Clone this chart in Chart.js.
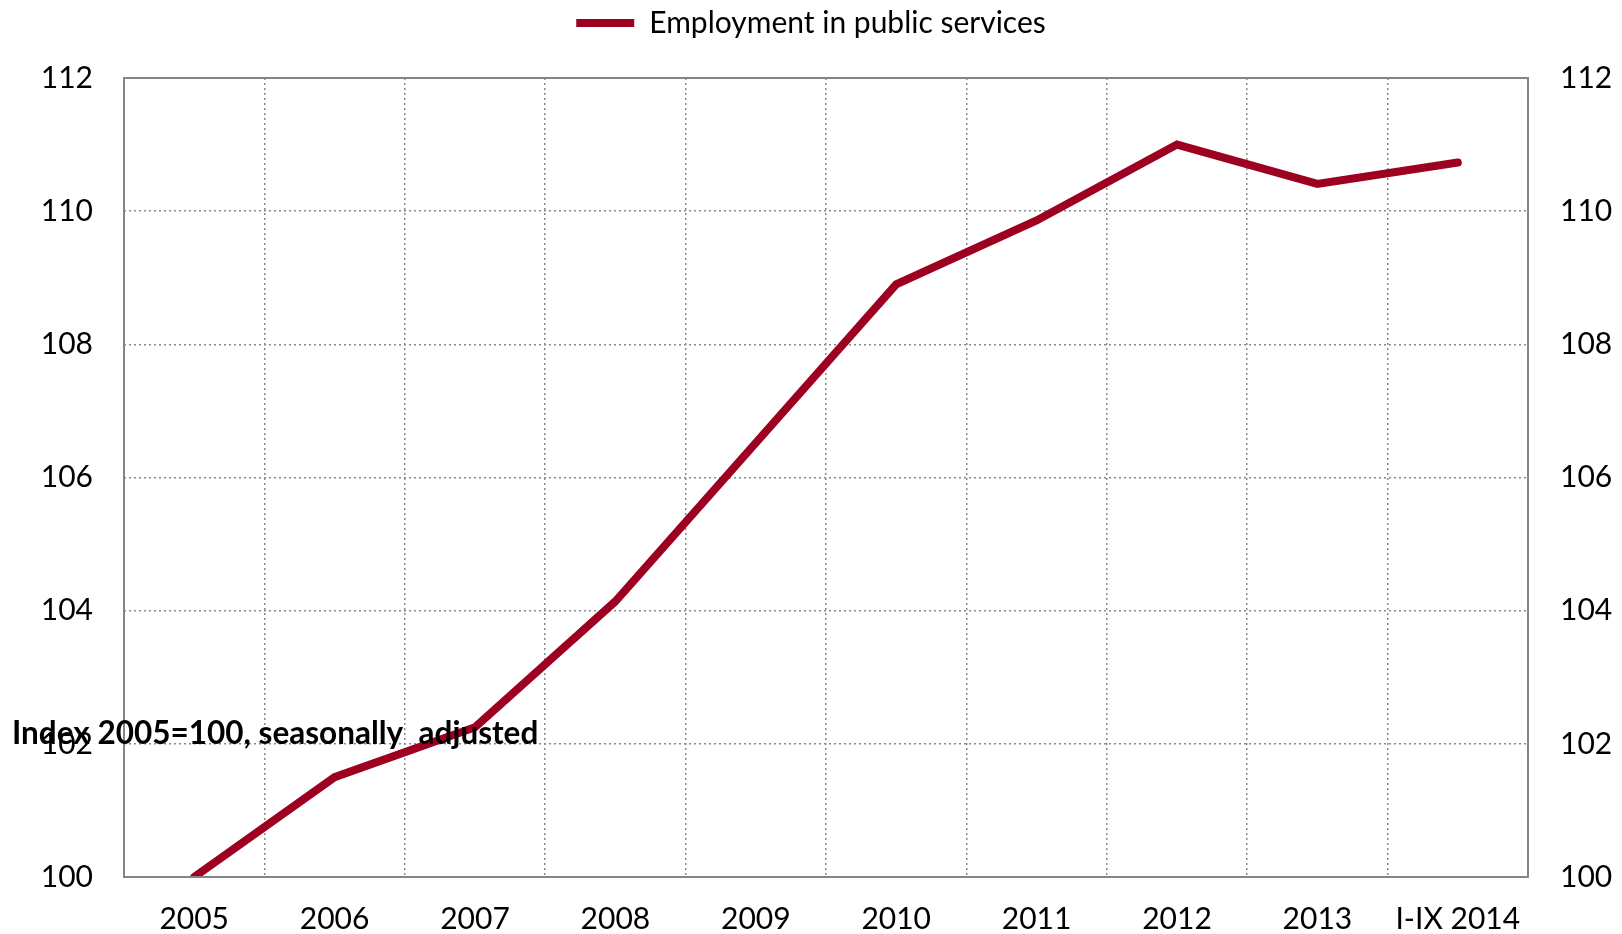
<!DOCTYPE html>
<html><head><meta charset="utf-8">
<script src="https://cdn.jsdelivr.net/npm/chart.js@4/dist/chart.umd.min.js"></script>
<style>html,body{margin:0;padding:0;background:#fff}#wrap{width:1622px;height:934px}</style>
</head><body><div id="wrap"><canvas id="c" width="1622" height="934"></canvas></div>
<script>
const categories = ['2005','2006','2007','2008','2009','2010','2011','2012','2013','I-IX 2014'];
const employmentPublic = [100.0, 101.5, 102.25, 104.14, 106.52, 108.9, 109.86, 111.0, 110.41, 110.73];
const seriesLabel = 'Employment in public services';
const yTicks = [100, 102, 104, 106, 108, 110, 112];
const noteText = 'Index 2005=100, seasonally  adjusted';

const FONT = 'Lato';
const frame = {
  id: 'frame',
  afterDraw(chart) {
    const {ctx, chartArea: a} = chart;
    ctx.save();
    ctx.strokeStyle = '#858585';
    ctx.lineWidth = 2;
    ctx.strokeRect(a.left, a.top, a.right - a.left, a.bottom - a.top);
    const y = chart.scales.y.getPixelForValue(102);
    ctx.fillStyle = '#000';
    ctx.font = 'bold 31.5px ' + FONT;
    ctx.textBaseline = 'alphabetic';
    ctx.fillText(noteText, 12, y);
    ctx.restore();
  }
};

const gridCommon = { color: '#8a8a8a', lineWidth: 1.5, drawTicks: false };
new Chart(document.getElementById('c'), {
  type: 'line',
  data: {
    labels: categories,
    datasets: [{
      label: seriesLabel,
      data: employmentPublic,
      borderColor: '#9d0020',
      backgroundColor: '#9d0020',
      borderWidth: 8,
      borderCapStyle: 'round',
      pointRadius: 0,
      tension: 0,
      clip: 0
    }]
  },
  options: {
    responsive: false,
    animation: false,
    layout: { padding: 0 },
    plugins: {
      legend: {
        position: 'top',
        labels: {
          usePointStyle: true, pointStyle: 'line', pointStyleWidth: 58,
          font: { family: FONT, size: 30, lineHeight: 1.0 }, color: '#000', padding: 8
        }
      },
      title: {
        display: true, text: ' ', position: 'top', weight: 500,
        font: { size: 2, lineHeight: 1 }, padding: { top: 0, bottom: 28 }
      },
      tooltip: { enabled: false }
    },
    scales: {
      x: {
        offset: true,
        afterFit: s => { s.height = 57; },
        grid: Object.assign({ offset: true }, gridCommon),
        border: { display: false, dash: [2, 3] },
        ticks: { font: { family: FONT, size: 30, lineHeight: 1.0 }, color: '#000', padding: 27, maxRotation: 0 }
      },
      y: {
        position: 'left', min: 100, max: 112,
        afterBuildTicks: s => { s.ticks = yTicks.map(v => ({ value: v })); },
        afterFit: s => { s.width = 124; },
        grid: gridCommon,
        border: { display: false, dash: [2, 3] },
        ticks: { font: { family: FONT, size: 30, lineHeight: 0.4 }, color: '#000', padding: 31 }
      },
      y2: {
        position: 'right', min: 100, max: 112,
        afterBuildTicks: s => { s.ticks = yTicks.map(v => ({ value: v })); },
        afterFit: s => { s.width = 94; },
        grid: { display: false, drawTicks: false },
        border: { display: false },
        ticks: { font: { family: FONT, size: 30, lineHeight: 0.4 }, color: '#000', padding: 32 }
      }
    }
  },
  plugins: [frame]
});
</script></body></html>
